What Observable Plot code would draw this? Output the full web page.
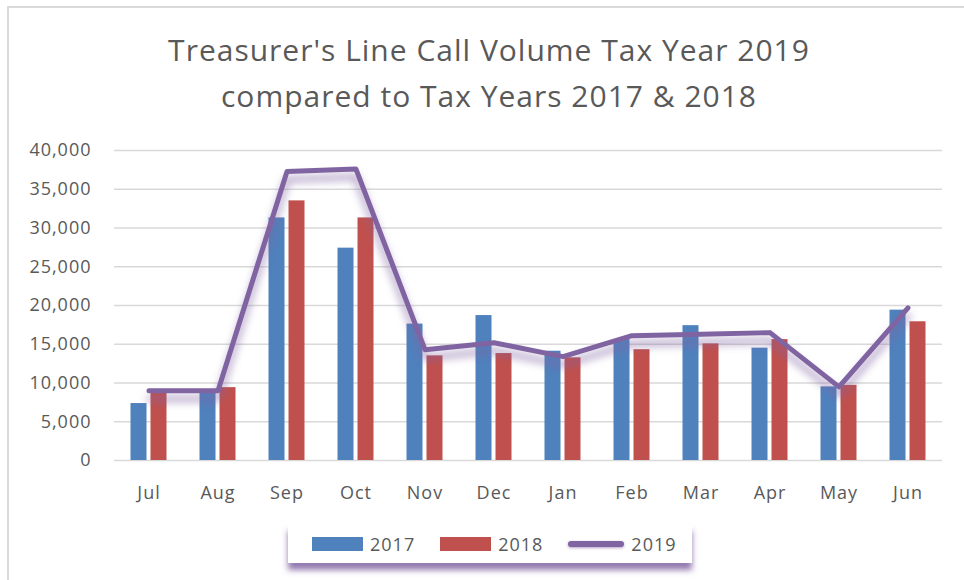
<!DOCTYPE html>
<html><head><meta charset="utf-8">
<script src="https://cdn.jsdelivr.net/npm/d3@7"></script>
<script src="https://cdn.jsdelivr.net/npm/@observablehq/plot@0.6"></script>
<style>
body{margin:0;background:#fff;font-family:"Open Sans",sans-serif;}
#frame{position:relative;width:964px;height:580px;overflow:hidden;background:#fff;}
#border{position:absolute;left:7px;top:6px;width:1000px;height:600px;border-left:2px solid #d9d9d9;border-top:2px solid #d9d9d9;}
#title{position:absolute;left:0;width:978px;top:27px;text-align:center;color:#595959;font-size:30px;line-height:46px;letter-spacing:1px;}
#chart{position:absolute;left:0;top:130px;}
#legend{position:absolute;left:288px;top:524px;width:404px;height:39px;background:#fff;box-shadow:0 7px 6px rgba(128,100,162,0.85);display:flex;align-items:center;padding-left:24px;box-sizing:border-box;color:#595959;font-size:18px;letter-spacing:1px;}
.item{display:flex;align-items:center;margin-right:25px;}
.sw{margin-right:7px;}
</style></head>
<body>
<div id="frame">
<div id="border"></div>
<div id="title">Treasurer's Line Call Volume Tax Year 2019<br>compared to Tax Years 2017 &amp; 2018</div>
<div id="chart"></div>
<div id="legend"></div>
</div>
<script>
const months = ["Jul","Aug","Sep","Oct","Nov","Dec","Jan","Feb","Mar","Apr","May","Jun"];
const series = ["2017","2018","2019"];
const v2017 = [7350, 8650, 31300, 27400, 17600, 18700, 14100, 15600, 17400, 14500, 9500, 19400];
const v2018 = [8800, 9400, 33500, 31300, 13500, 13800, 13250, 14300, 15050, 15600, 9700, 17900];
const v2019 = [9000, 9000, 37300, 37600, 14300, 15200, 13400, 16100, 16300, 16500, 9500, 19700];
const yTicks = [0,5000,10000,15000,20000,25000,30000,35000,40000];
const colors = ["#4F81BD","#C0504D","#8064A2"];

const rows = (vals) => months.map((m,i) => ({month:m, value:vals[i]}));

const chart = Plot.plot({
  width: 964, height: 380,
  marginTop: 20, marginBottom: 50, marginLeft: 114, marginRight: 22,
  style: {fontFamily: "Open Sans", fontSize: "18px", color: "#595959", background: "transparent", overflow: "visible", letterSpacing: "1px"},
  x: {domain: months, padding: 0, label: null, tickSize: 0, tickPadding: 26},
  y: {domain: [0, 40000], ticks: yTicks, tickFormat: d3.format(","), label: null, tickSize: 0, tickPadding: 23},
  marks: [
    Plot.ruleY(yTicks, {stroke: "#d9d9d9", strokeWidth: 1.5}),
    Plot.barY(rows(v2017), {x: "month", y: "value", fill: colors[0], insetLeft: 16.5, insetRight: 36.5}),
    Plot.barY(rows(v2018), {x: "month", y: "value", fill: colors[1], insetLeft: 36.5, insetRight: 16.5}),
    Plot.lineY(rows(v2019), {x: "month", y: "value", stroke: colors[2], strokeWidth: 5, strokeLinejoin: "round", strokeLinecap: "round"})
  ]
});
document.getElementById("chart").appendChild(chart);
d3.select(chart).selectAll("g[aria-label='line'] path")
  .style("filter", "drop-shadow(0px 8px 4px rgba(128,100,162,0.7))");

const legend = d3.select("#legend");
series.forEach((s, i) => {
  const it = legend.append("div").attr("class", "item");
  if (i < 2) {
    it.append("div").attr("class", "sw").style("width", "51px").style("height", "14px").style("background", colors[i]);
  } else {
    it.append("div").attr("class", "sw").style("width", "56px").style("height", "6px").style("border-radius", "3px")
      .style("background", colors[i]).style("box-shadow", "0 1px 3px rgba(128,100,162,0.6)");
  }
  it.append("span").text(s);
});
</script>
</body></html>
